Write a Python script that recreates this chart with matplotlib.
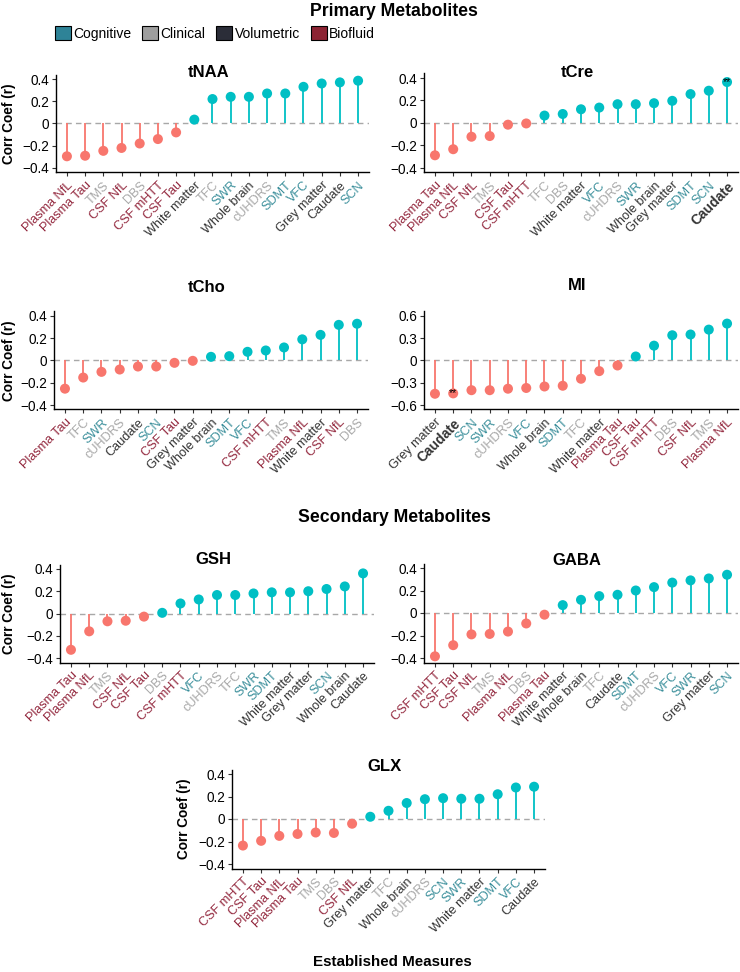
import numpy as np
import matplotlib
matplotlib.use("Agg")
import matplotlib.pyplot as plt
import matplotlib.transforms as mtransforms
from matplotlib.patches import Patch

plt.rcParams['font.family'] = ['Liberation Sans', 'DejaVu Sans']

# measure groups
cognitive = ['SWR', 'SDMT', 'VFC', 'SCN']
clinical = ['TMS', 'DBS', 'TFC', 'cUHDRS']
volumetric = ['White matter', 'Whole brain', 'Grey matter', 'Caudate']
biofluid = ['Plasma NfL', 'Plasma Tau', 'CSF NfL', 'CSF mHTT', 'CSF Tau']

group_names = ['Cognitive', 'Clinical', 'Volumetric', 'Biofluid']
group_colors = ['#2E8397', '#9E9E9E', '#2B2D38', '#8C2333']
label_colors = {'Cognitive': '#3B8F9B', 'Clinical': '#A8A8A8',
                'Volumetric': '#333333', 'Biofluid': '#93283E'}

# correlation coefficients, sorted as in each panel
tnaa_labels = ['Plasma NfL', 'Plasma Tau', 'TMS', 'CSF NfL', 'DBS', 'CSF mHTT', 'CSF Tau',
               'White matter', 'TFC', 'SWR', 'Whole brain', 'cUHDRS', 'SDMT', 'VFC',
               'Grey matter', 'Caudate', 'SCN']
tnaa_vals = [-0.295, -0.29, -0.246, -0.22, -0.18, -0.14, -0.08, 0.035, 0.22, 0.24, 0.24,
             0.27, 0.27, 0.33, 0.36, 0.37, 0.385]

tcre_labels = ['Plasma Tau', 'Plasma NfL', 'CSF NfL', 'TMS', 'CSF Tau', 'CSF mHTT', 'TFC',
               'DBS', 'White matter', 'VFC', 'cUHDRS', 'SWR', 'Whole brain', 'Grey matter',
               'SDMT', 'SCN', 'Caudate']
tcre_vals = [-0.287, -0.233, -0.122, -0.116, -0.015, -0.004, 0.066, 0.08, 0.122, 0.137,
             0.167, 0.167, 0.176, 0.197, 0.257, 0.287, 0.364]

tcho_labels = ['Plasma Tau', 'TFC', 'SWR', 'cUHDRS', 'Caudate', 'SCN', 'CSF Tau', 'Grey matter',
               'Whole brain', 'SDMT', 'VFC', 'CSF mHTT', 'TMS', 'Plasma NfL', 'White matter',
               'CSF NfL', 'DBS']
tcho_vals = [-0.253, -0.153, -0.102, -0.081, -0.054, -0.054, -0.021, -0.003, 0.033, 0.039,
             0.078, 0.09, 0.117, 0.19, 0.23, 0.32, 0.33]

mi_labels = ['Grey matter', 'Caudate', 'SCN', 'SWR', 'cUHDRS', 'VFC', 'Whole brain', 'SDMT',
             'TFC', 'White matter', 'Plasma Tau', 'CSF Tau', 'CSF mHTT', 'DBS', 'CSF NfL',
             'TMS', 'Plasma NfL']
mi_vals = [-0.448, -0.443, -0.40, -0.40, -0.38, -0.37, -0.35, -0.34, -0.246, -0.143,
           -0.067, 0.054, 0.20, 0.34, 0.35, 0.416, 0.497]

gsh_labels = ['Plasma Tau', 'Plasma NfL', 'TMS', 'CSF NfL', 'CSF Tau', 'DBS', 'CSF mHTT', 'VFC',
              'cUHDRS', 'TFC', 'SWR', 'SDMT', 'White matter', 'Grey matter', 'SCN',
              'Whole brain', 'Caudate']
gsh_vals = [-0.326, -0.16, -0.07, -0.065, -0.028, 0.006, 0.09, 0.126, 0.166, 0.166, 0.18,
            0.19, 0.19, 0.2, 0.22, 0.243, 0.36]

gaba_labels = ['CSF mHTT', 'CSF Tau', 'CSF NfL', 'TMS', 'Plasma NfL', 'DBS', 'Plasma Tau',
               'White matter', 'Whole brain', 'TFC', 'Caudate', 'SDMT', 'cUHDRS', 'VFC', 'SWR',
               'Grey matter', 'SCN']
gaba_vals = [-0.385, -0.286, -0.19, -0.186, -0.165, -0.093, -0.015, 0.07, 0.117, 0.15, 0.162,
             0.2, 0.23, 0.27, 0.29, 0.307, 0.34]

glx_labels = ['CSF mHTT', 'CSF Tau', 'Plasma NfL', 'Plasma Tau', 'TMS', 'DBS', 'CSF NfL',
              'Grey matter', 'TFC', 'Whole brain', 'cUHDRS', 'SCN', 'SWR', 'White matter',
              'SDMT', 'VFC', 'Caudate']
glx_vals = [-0.236, -0.194, -0.15, -0.133, -0.12, -0.124, -0.042, 0.02, 0.073, 0.142, 0.176,
            0.185, 0.18, 0.18, 0.22, 0.28, 0.287]

NEG = '#F8766D'
POS = '#00BFC4'
W, H = 740, 972


def group_of(name):
    for g, members in zip(group_names, [cognitive, clinical, volumetric, biofluid]):
        if name in members:
            return g


def fmt(v):
    if abs(v) < 1e-9:
        return '0'
    return ('%.1f' % v).replace('-', '\u2212')


def lollipop(box, title, labels, vals, lim, ticks, title_y, ylab_x=None, star=None):
    # box is left, top, right, bottom in pixels, title_y is the title baseline in pixels
    l, t, r, b = box
    ax = fig.add_axes([l / W, 1 - b / H, (r - l) / W, (b - t) / H])
    x = np.arange(len(labels))
    vals = np.array(vals)
    cols = [POS if v >= 0 else NEG for v in vals]
    ax.axhline(0, color='#A8A8A8', lw=1.0, ls=(0, (4, 3)), zorder=1)
    ax.vlines(x, 0, vals, colors=cols, lw=1.3, zorder=2)
    ax.scatter(x, vals, c=cols, s=52, zorder=3, linewidths=0)
    if star is not None:
        ax.text(star, vals[star], '**', ha='center', va='center', fontsize=7.5,
                color='black', zorder=4)

    ax.set_xlim(-0.6, len(labels) - 0.4)
    ax.set_ylim(-lim, lim)
    ax.set_yticks(ticks)
    ax.set_yticklabels([fmt(v) for v in ticks], fontsize=9.8, color='black')
    ax.set_xticks(x)
    ax.set_xticklabels(labels, rotation=45, ha='right', va='top',
                       rotation_mode='anchor', fontsize=9.1)
    shift = mtransforms.ScaledTranslation(4 / 100, -5 / 100, fig.dpi_scale_trans)
    for lab in ax.get_xticklabels():
        name = lab.get_text()
        lab.set_color(label_colors[group_of(name)])
        lab.set_transform(lab.get_transform() + shift)
        if star is not None and name == labels[star]:
            lab.set_fontweight('bold')
            lab.set_color('#333333')
            lab.set_fontsize(10)
    ax.tick_params(axis='both', length=3, width=0.8, pad=2, color='#333333')
    for s in ['top', 'right']:
        ax.spines[s].set_visible(False)
    for s in ['left', 'bottom']:
        ax.spines[s].set_linewidth(1.0)
    ax.text(0.5 - 4 / (r - l), (b - title_y) / (b - t), title, transform=ax.transAxes,
            ha='center', va='baseline', fontsize=12, fontweight='bold')
    if ylab_x is not None:
        ax.set_ylabel('Corr Coef (r)', fontsize=9.8, fontweight='bold')
        ax.yaxis.set_label_coords((ylab_x - l) / (r - l), 0.5)
    return ax


fig = plt.figure(figsize=(7.4, 9.72), dpi=100)

t4 = [-0.4, -0.2, 0, 0.2, 0.4]
t6 = [-0.6, -0.3, 0, 0.3, 0.6]

# Primary metabolites
lollipop((56, 74.6, 369, 172.4), 'tNAA', tnaa_labels, tnaa_vals, 0.44, t4, 77, ylab_x=16)
lollipop((424, 73.5, 738, 172.5), 'tCre', tcre_labels, tcre_vals, 0.44, t4, 77,
         star=len(tcre_labels) - 1)
lollipop((54, 311.5, 368, 409.5), 'tCho', tcho_labels, tcho_vals, 0.44, t4, 292, ylab_x=16)
lollipop((424, 311.5, 738, 409.5), 'MI', mi_labels, mi_vals, 0.66, t6, 290, star=1)

# Secondary metabolites
lollipop((60, 564.5, 374, 662.5), 'GSH', gsh_labels, gsh_vals, 0.44, t4, 564, ylab_x=16)
lollipop((424, 563.5, 738, 662.5), 'GABA', gaba_labels, gaba_vals, 0.44, t4, 565)
lollipop((232, 769.5, 545, 868.5), 'GLX', glx_labels, glx_vals, 0.44, t4, 771, ylab_x=191)

# section headers
fig.text(394 / W, 1 - 11 / H, 'Primary Metabolites', ha='center', va='center',
         fontsize=12.7, fontweight='bold')
fig.text(394 / W, 1 - 518 / H, 'Secondary Metabolites', ha='center', va='center',
         fontsize=12.7, fontweight='bold')
fig.text(392 / W, 1 - 962 / H, 'Established Measures', ha='center', va='center',
         fontsize=10.9, fontweight='bold')

# legend
handles = [Patch(facecolor=c, edgecolor='black', linewidth=0.8, label=n)
           for n, c in zip(group_names, group_colors)]
fig.legend(handles=handles, loc='upper left', bbox_to_anchor=(55 / W, 1 - 26 / H),
           ncol=4, frameon=False, fontsize=10, handlelength=1.15, handleheight=1.15,
           handletextpad=0.15, columnspacing=0.8, borderpad=0, borderaxespad=0)

plt.savefig('out.png', dpi=100)
